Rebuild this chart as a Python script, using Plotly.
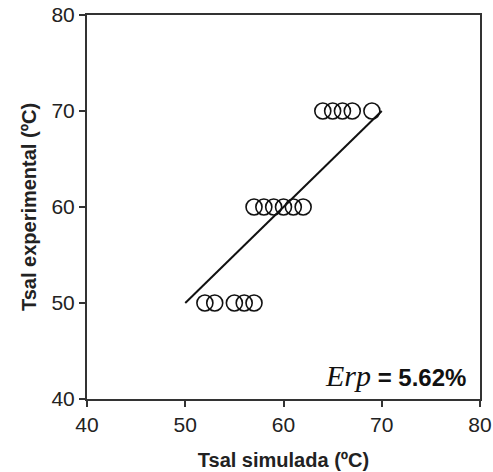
import plotly.graph_objects as go

# Data
sim_50 = [52, 53, 55, 56, 57]
sim_60 = [57, 58, 59, 60, 61, 62]
sim_70 = [64, 65, 66, 67, 69]
tsal_sim = sim_50 + sim_60 + sim_70
tsal_exp = [50] * len(sim_50) + [60] * len(sim_60) + [70] * len(sim_70)

line_x = [50, 70]
line_y = [50, 70]

tick_vals = [40, 50, 60, 70, 80]
tick_text = ["40", "50", "60", "70", "80"]

fig = go.Figure()
fig.add_trace(go.Scatter(
    x=line_x, y=line_y, mode="lines",
    line=dict(color="#111111", width=2), showlegend=False, hoverinfo="skip"))
fig.add_trace(go.Scatter(
    x=tsal_sim, y=tsal_exp, mode="markers",
    marker=dict(symbol="circle-open", size=16, color="#111111",
                line=dict(width=1.6, color="#111111")),
    showlegend=False))

axis_common = dict(
    showgrid=False, zeroline=False, showline=True, linecolor="#333333",
    linewidth=2, mirror=True, ticks="outside", ticklen=6, tickwidth=1.5,
    tickcolor="#333333", tickvals=tick_vals, ticktext=tick_text,
    tickfont=dict(family="Liberation Sans, Arial", size=21, color="#222222"),
    automargin=False,
)

fig.update_xaxes(range=[40, 80], **axis_common,
                 title=dict(text="<b>Tsal simulada (ºC)</b>", standoff=18,
                            font=dict(family="Liberation Sans, Arial", size=20, color="#222222")))
fig.update_yaxes(range=[40, 80], **axis_common,
                 title=dict(text="<b>Tsal experimental (ºC)</b>", standoff=9,
                            font=dict(family="Liberation Sans, Arial", size=20, color="#222222")))

fig.add_annotation(
    x=78.8, y=42.5, xref="x", yref="y", xanchor="right", yanchor="middle",
    showarrow=False,
    text="<span style='font-family:Liberation Serif, Times New Roman; font-size:30px'><i>Erp</i></span>"
         "<span style='font-family:Liberation Sans, Arial; font-size:24px'><b> = 5.62%</b></span>",
    font=dict(color="#111111"),
)

fig.update_layout(
    width=493, height=472,
    margin=dict(l=87, r=13, t=15, b=73),
    paper_bgcolor="white", plot_bgcolor="white",
)

fig.write_html("out.html", config={"displayModeBar": False},
               post_script="document.body.style.margin='0';")
